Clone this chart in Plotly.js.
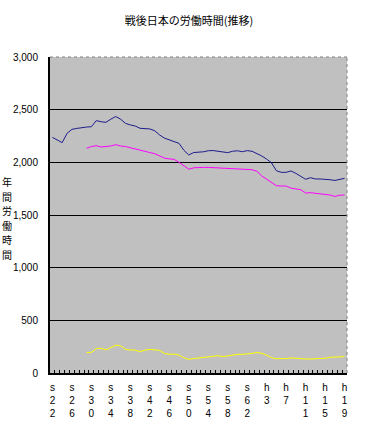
<!DOCTYPE html>
<html>
<head>
<meta charset="utf-8">
<script src="https://cdn.plot.ly/plotly-3.0.1.min.js"></script>
<style>html,body{margin:0;padding:0;background:#fff;}#chart{width:378px;height:435px;}</style>
</head>
<body>
<div id="chart"></div>
<script>
// Years: s22 (1947) .. h19 (2007)
const categories = [
  "s22","s23","s24","s25","s26","s27","s28","s29","s30","s31","s32","s33","s34","s35","s36","s37","s38","s39","s40","s41",
  "s42","s43","s44","s45","s46","s47","s48","s49","s50","s51","s52","s53","s54","s55","s56","s57","s58","s59","s60","s61",
  "s62","s63","h1","h2","h3","h4","h5","h6","h7","h8","h9","h10","h11","h12","h13","h14","h15","h16","h17","h18","h19"
];
const totalHours = [
  2237,2210,2187,2275,2313,2322,2330,2335,2338,2396,2385,2380,2410,2435,2410,2370,2355,2345,2323,2320,
  2317,2300,2260,2230,2215,2200,2180,2115,2070,2093,2095,2100,2110,2112,2105,2095,2092,2105,2110,2101,
  2111,2105,2086,2060,2030,1995,1920,1905,1905,1918,1895,1870,1839,1854,1842,1842,1842,1835,1828,1835,1848
];
const scheduledHours = [
  null,null,null,null,null,null,null,2133,2150,2158,2146,2150,2155,2168,2155,2150,2140,2128,2117,2110,
  2093,2082,2060,2040,2033,2028,2000,1970,1935,1948,1952,1952,1952,1950,1945,1943,1943,1940,1935,1933,
  1933,1930,1915,1870,1840,1810,1778,1775,1775,1755,1745,1740,1708,1712,1706,1700,1695,1690,1676,1688,1690
];
const overtimeHours = [
  null,null,null,null,null,null,null,193,196,232,234,220,245,264,258,225,218,218,202,217,
  224,222,215,185,178,179,170,145,130,137,143,149,157,164,164,155,162,175,177,177,
  178,186,195,187,170,145,136,133,137,143,138,133,133,133,133,133,140,149,149,152,155
];
const tickLabels = ["s22","s26","s30","s34","s38","s42","s46","s50","s54","s58","s62","h3","h7","h11","h15","h19"];
const titleText = "戦後日本の労働時間(推移)";
const yTitleText = "年間労働時間";

const tickText = categories.map(c => tickLabels.includes(c) ? c.split("").join("<br>") : "");

const traces = [
  {x: categories, y: totalHours, type: "scatter", mode: "lines", line: {color: "#1c1c8c", width: 1}, name: "総実労働時間"},
  {x: categories, y: scheduledHours, type: "scatter", mode: "lines", line: {color: "#ff00ff", width: 1}, name: "所定内労働時間"},
  {x: categories, y: overtimeHours, type: "scatter", mode: "lines", line: {color: "#ffff00", width: 1}, name: "所定外労働時間"}
];

// vertical y-axis title: one annotation per character, stacked
const yChars = yTitleText.split("");
const plotTop = 57, plotH = 316, charStep = 14.6, centerPx = 218;
const yTitleAnn = yChars.map((ch, k) => ({
  text: ch, xref: "paper", yref: "paper", x: -0.145,
  y: (plotTop + plotH - (centerPx + (k - (yChars.length - 1) / 2) * charStep)) / plotH,
  xanchor: "center", yanchor: "middle", showarrow: false,
  borderpad: 0,
  font: {family: "Noto Sans CJK JP, sans-serif", size: 10, color: "#000"}
}));

const layout = {
  width: 378, height: 435,
  margin: {l: 50, r: 31, t: 57, b: 62},
  paper_bgcolor: "#ffffff",
  plot_bgcolor: "#c0c0c0",
  showlegend: false,
  font: {family: "Liberation Sans, Arial, sans-serif", size: 10, color: "#000"},
  title: {text: titleText, x: 0.5, xanchor: "center", y: 0.952, yanchor: "middle",
          font: {family: "Noto Sans CJK JP, sans-serif", size: 11, color: "#000"}},
  xaxis: {
    type: "category",
    range: [-0.5, categories.length - 0.5],
    tickmode: "array", tickvals: categories, ticktext: tickText,
    ticks: "inside", ticklen: 3, tickcolor: "#000", tickson: "boundaries",
    showgrid: false, zeroline: false,
    showline: true, linecolor: "#000", linewidth: 2,
    ticklabelstandoff: 4,
    tickfont: {family: "Liberation Sans, Arial, sans-serif", size: 10, color: "#000"},
    tickangle: 0
  },
  yaxis: {
    range: [0, 3000], dtick: 500, tick0: 0, tickformat: ",",
    showgrid: true, gridcolor: "#000", gridwidth: 1,
    zeroline: false, showline: true, linecolor: "#000", linewidth: 2,
    ticks: "", ticklabelstandoff: 8,
    tickfont: {family: "Liberation Sans, Arial, sans-serif", size: 10, color: "#000"}
  },
  shapes: [
    {type: "line", xref: "paper", yref: "paper", x0: 1, x1: 1, y0: 0, y1: 1, line: {color: "#808080", width: 1, dash: "dot"}},
    {type: "line", xref: "paper", yref: "paper", x0: 0, x1: 1, y0: 1, y1: 1, line: {color: "#808080", width: 1, dash: "dot"}}
  ],
  annotations: yTitleAnn
};

Plotly.newPlot("chart", traces, layout, {displayModeBar: false, staticPlot: true});
</script>
</body>
</html>
